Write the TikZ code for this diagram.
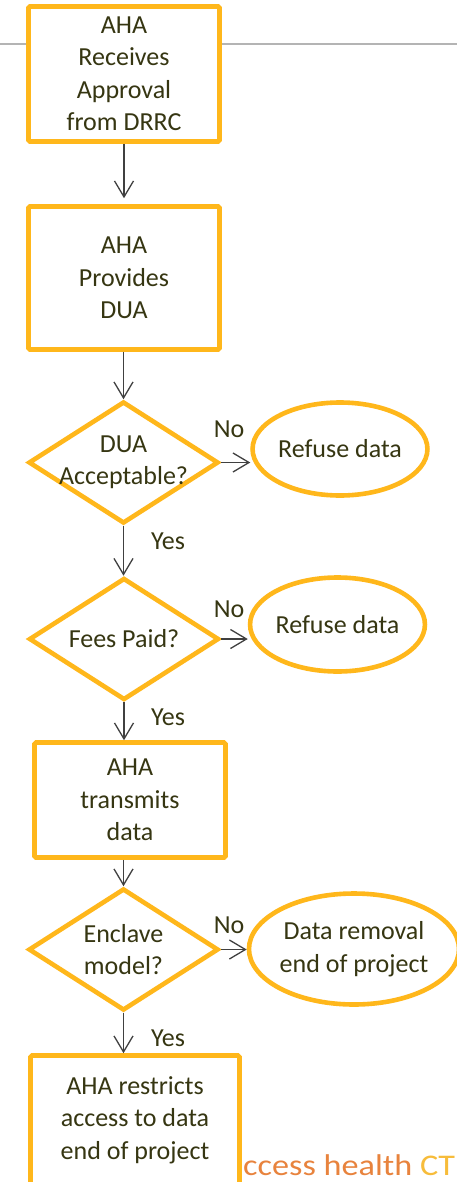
\documentclass[tikz,border=0pt]{standalone}
\usepackage{fontspec}
\setmainfont{Carlito}
\usetikzlibrary{shapes.geometric,arrows.meta}
\definecolor{orng}{HTML}{FFB71B}
\definecolor{txtc}{HTML}{363612}
\definecolor{arrc}{HTML}{404040}
\definecolor{rulec}{HTML}{B4B4B4}
\definecolor{wma}{HTML}{E8833D}
\definecolor{wmb}{HTML}{F7BC3A}
\begin{document}
\begin{tikzpicture}[x=1pt,y=-1pt,
  base/.style={draw=orng, line width=4.6pt, fill=white, inner sep=0pt, text=txtc,
    font=\fontsize{26}{32.5}\selectfont, align=center},
  boxn/.style={base, rectangle, rounded corners=1.5pt},
  dia/.style={base, diamond, minimum width=190pt, minimum height=122pt},
  ell/.style={base, ellipse},
  lbl/.style={text=txtc, font=\fontsize{26}{32.5}\selectfont, inner sep=0pt, align=center},
  arr/.style={draw=arrc, line width=1.3pt, -{Straight Barb[length=16pt,width=19pt]}}]
\fill[white] (0,0) rectangle (457,1182);
\clip (0,0) rectangle (457,1182);
\draw[rulec, line width=1.5pt] (0,44) -- (457,44);
% watermark
\node[anchor=base west, inner sep=0pt, font=\fontsize{30}{36}\selectfont] (wm) at (243,1175)
  {\scalebox{1.14}[1]{\textcolor{wma}{ccess health} \textcolor{wmb}{CT}}};
% boxes
\node[boxn, minimum width=191pt, minimum height=135pt] (b1) at (124,74) {AHA\\Receives\\Approval\\from DRRC};
\node[boxn, minimum width=191pt, minimum height=143pt] (b2) at (124,278) {AHA\\Provides\\DUA};
\node[dia] (d1) at (123.5,462.5) {};
\node[lbl] (d1t) at (d1.center) {DUA\\Acceptable?};
\node[ell, minimum width=159pt, minimum height=93pt] (e1) at (340,449) {Refuse data};
\node[dia] (d2) at (124,639) {};
\node[lbl] (d2t) at (d2.center) {Fees Paid?};
\node[ell, minimum width=158pt, minimum height=94pt] (e2) at (337.5,624.5) {Refuse data};
\node[boxn, minimum width=191pt, minimum height=115pt] (b3) at (130,800) {AHA\\transmits\\data};
\node[dia] (d3) at (123.5,949.5) {};
\node[lbl] (d3t) at (d3.center) {Enclave\\model?};
\node[ell, minimum width=189pt, minimum height=111pt] (e3) at (354,949) {Data removal\\end of project};
\node[boxn, minimum width=209pt, minimum height=129pt] (b4) at (135,1120) {AHA restricts\\access to data\\end of project};
% labels
\node[lbl] (no1) at (229,429) {No};
\node[lbl] (yes1) at (168,541) {Yes};
\node[lbl] (no2) at (229,609) {No};
\node[lbl] (yes2) at (168,717) {Yes};
\node[lbl] (no3) at (229,925) {No};
\node[lbl] (yes3) at (168,1038) {Yes};
% arrows
\draw[arr, shorten >=6pt] (b1.south) -- (b2.north);
\draw[arr] (d1.north |- b2.south) -- (d1.north);
\draw[arr] (d1.east) -- (d1.east -| e1.west);
\draw[arr] (d1.south) -- (d1.south |- d2.north);
\draw[arr] (d2.east) -- (d2.east -| e2.west);
\draw[arr] (d2.south) -- (d2.south |- b3.north);
\draw[arr] (d3.north |- b3.south) -- (d3.north);
\draw[arr] (d3.east) -- (d3.east -| e3.west);
\draw[arr] (d3.south) -- (d3.south |- b4.north);
\end{tikzpicture}
\end{document}
